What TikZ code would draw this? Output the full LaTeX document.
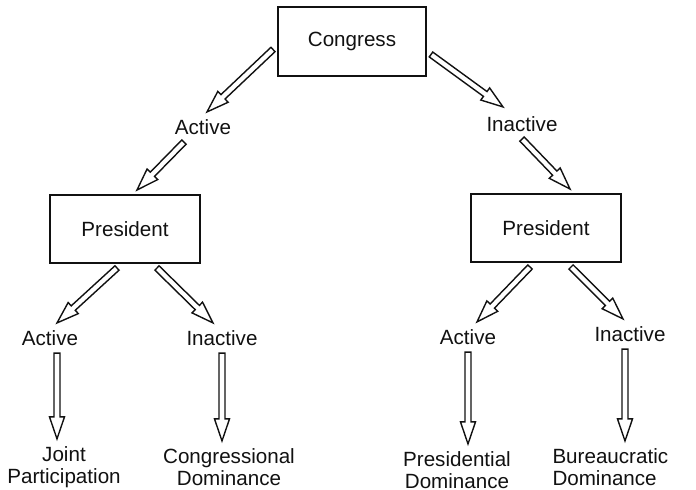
\documentclass[tikz,border=0pt]{standalone}
\usepackage{fontspec}
\setmainfont{Liberation Sans}
\usepackage{tikz}
\usetikzlibrary{calc}
\definecolor{cInk}{HTML}{111111}

% hollow block arrow from #1 to #2
\newcommand{\hollowarrow}[2]{%
  \path (#1) coordinate (hs) (#2) coordinate (ht);
  \draw[arrowline]
    ($(hs)!1.5pt!90:(ht)$) -- ($(ht)!11pt!(hs)!1.5pt!90:(ht)$)
    -- ($(ht)!11pt!(hs)!3.75pt!90:(ht)$) -- (ht)
    -- ($(ht)!11pt!(hs)!3.75pt!-90:(ht)$) -- ($(ht)!11pt!(hs)!1.5pt!-90:(ht)$)
    -- ($(hs)!1.5pt!-90:(ht)$) -- cycle;
}

\begin{document}
\begin{tikzpicture}[x=0.5pt, y=-0.5pt,
    every node/.style={font=\fontsize{10.3}{11}\selectfont, text=cInk},
    box/.style={draw=cInk, line width=0.7pt, minimum width=74pt, minimum height=34pt, outer sep=2.5pt},
    lbl/.style={inner sep=1pt, outer sep=2.75pt},
    arrowline/.style={draw=cInk, line width=0.7pt, line join=miter}]
  \useasboundingbox (0,0) rectangle (696,490);

  \node[box, minimum height=34.5pt] (cong) at (352,41.5) {Congress};
  \node[lbl] (actA) at (203,127) {Active};
  \node[lbl] (inactA) at (522,124) {Inactive};
  \node[box, minimum width=75pt] (presL) at (125,229) {President};
  \node[box, minimum width=75pt] (presR) at (546,228) {President};

  \node[lbl] (actL) at (50,338) {Active};
  \node[lbl] (inactL) at (222,338) {Inactive};
  \node[lbl] (actR) at (468,337) {Active};
  \node[lbl] (inactR) at (630,334) {Inactive};

  \node[lbl, align=center] (joint) at (64,467) {Joint\\Participation};
  \node[lbl, align=center] (congdom) at (229,467) {Congressional\\Dominance};
  \node[lbl, align=center] (presdom) at (457,470) {Presidential\\Dominance};
  \node[lbl, align=left, anchor=west] (bureau) at (545,467) {Bureaucratic\\Dominance};

  % top level
  \hollowarrow{[yshift=-4pt]cong.west}{[xshift=2pt]actA.north}
  \hollowarrow{[xshift=-9.5pt]actA.south}{[xshift=6pt]presL.north}
  \hollowarrow{[yshift=-6.5pt]cong.east}{[xshift=-9.5pt,yshift=1pt]inactA.north}
  \hollowarrow{inactA.south}{[xshift=12pt]presR.north}

  % left president
  \hollowarrow{[xshift=-4pt]presL.south}{[xshift=3.5pt]actL.north}
  \hollowarrow{[xshift=16pt]presL.south}{[xshift=-4.5pt]inactL.north}
  \hollowarrow{[xshift=3.5pt]actL.south}{hs |- joint.north}
  \hollowarrow{inactL.south}{hs |- congdom.north}

  % right president
  \hollowarrow{[xshift=-8pt]presR.south}{[xshift=4.5pt]actR.north}
  \hollowarrow{[xshift=12.5pt]presR.south}{[xshift=-3.5pt]inactR.north}
  \hollowarrow{actR.south}{hs |- presdom.north}
  \hollowarrow{[xshift=-2.5pt]inactR.south}{hs |- bureau.north}
\end{tikzpicture}
\end{document}
